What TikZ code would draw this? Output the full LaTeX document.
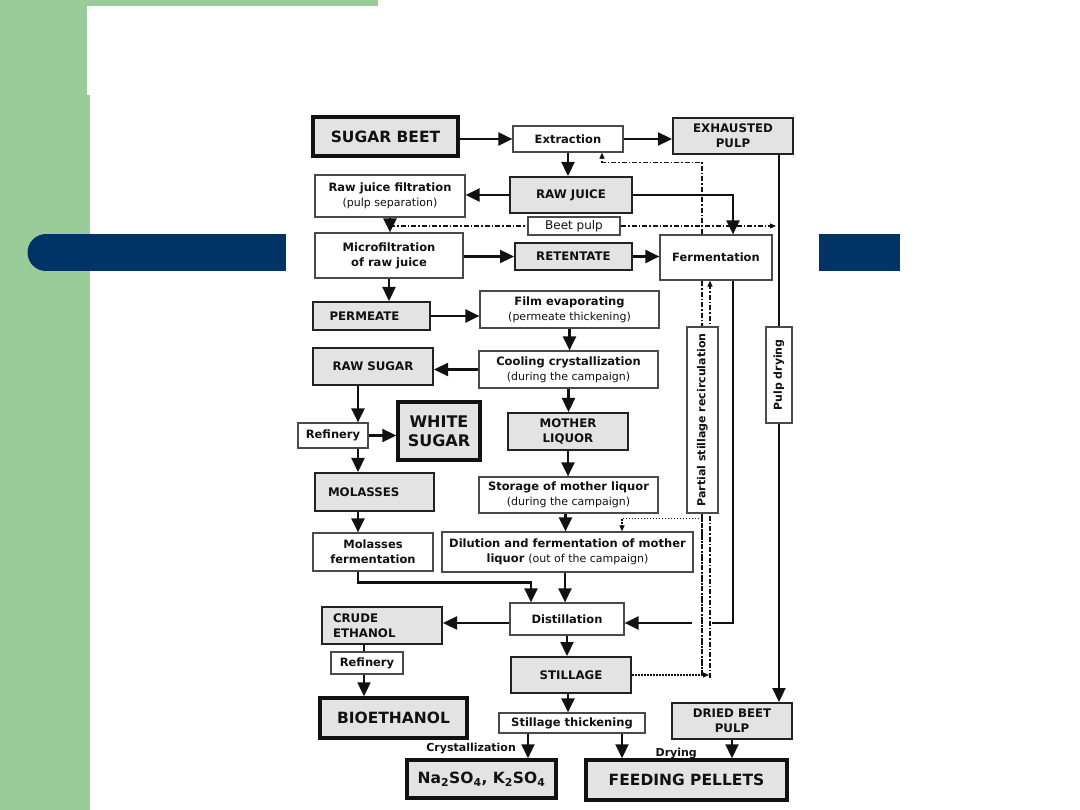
\documentclass[tikz,border=0pt]{standalone}
\usepackage{fontspec}
\setmainfont{DejaVu Sans}
\usetikzlibrary{arrows.meta}
\definecolor{slidegreen}{HTML}{99CC99}
\definecolor{slideblue}{HTML}{003366}
\definecolor{boxgray}{HTML}{E3E3E3}
\definecolor{boxline}{HTML}{4A4A4A}
\definecolor{darkline}{HTML}{222222}
\definecolor{ink}{HTML}{111111}
\newcommand{\txtbold}{\fontsize{11.5}{15}\selectfont\bfseries}
\newcommand{\txtplain}{\fontsize{11}{15}\selectfont\mdseries}
\newcommand{\txtcaps}{\fontsize{11.8}{15}\selectfont\bfseries}
\newcommand{\txtbig}{\fontsize{15.5}{18}\selectfont\bfseries}
\newcommand{\txtlabel}{\fontsize{11}{13}\selectfont\bfseries}
\pgfdeclarelayer{slide}
\pgfdeclarelayer{behind}
\pgfsetlayers{slide,behind,main}

\begin{document}
\begin{tikzpicture}[x=1pt,y=-1pt,
    boxsize/.style 2 args={minimum width=#1pt,minimum height=#2pt},
    flowbox/.style={draw=boxline,line width=1.2pt,fill=white,text=ink,
                    font=\txtbold,align=center,inner sep=0pt},
    graybox/.style={flowbox,fill=boxgray,draw=darkline,line width=2pt,font=\txtcaps},
    heavybox/.style={graybox,draw=ink,line width=3.5pt,font=\txtbig},
    line/.style={line width=2.3pt,draw=ink},
    link/.style={line,-{Triangle[length=14pt,width=13pt]}},
    dashline/.style={line width=1.1pt,draw=ink,dash pattern=on 5pt off 2pt on 1.5pt off 2pt,
                     -{Triangle[length=6pt,width=5pt]}},
    dotline/.style={line width=1.1pt,draw=ink,dash pattern=on 1.5pt off 1.5pt,
                    -{Triangle[length=6pt,width=5pt]}},
    steplabel/.style={font=\txtlabel,text=ink,inner sep=0pt}]
  \useasboundingbox (0,0) rectangle (1080,810);
  % slide background
  \begin{pgfonlayer}{slide}
    \fill[white] (0,0) rectangle (1080,810);
    \fill[slidegreen] (0,0) rectangle (378,6);
    \fill[slidegreen] (0,0) rectangle (90,810);
    \fill[white] (87,6) rectangle (1080,95);
    \fill[white,rounded corners=16pt] (90,95) rectangle (1120,850);
    \fill[slideblue] (46,234) rectangle (286,271);
    \fill[slideblue] (46,252.5) circle[radius=18.5pt];
    \fill[slideblue] (819,234) rectangle (900,271);
  \end{pgfonlayer}

  % process boxes
  \node[heavybox,boxsize={145}{39}] (sugar) at (385.5,136.5) {SUGAR BEET};
  \node[flowbox,boxsize={110}{26}] (extr) at (568,139) {Extraction};
  \node[graybox,boxsize={120}{36}] (exh) at (733,136) {EXHAUSTED\\PULP};
  \node[flowbox,boxsize={150}{42}] (filt) at (390,196)
    {Raw juice filtration\\{\txtplain (pulp separation)}};
  \node[graybox,boxsize={122}{36}] (rawjuice) at (571,195) {RAW JUICE};
  \node[flowbox,boxsize={92}{18},font=\fontsize{12}{14}\selectfont] (beetpulp) at (574,226) {Beet pulp};
  \node[flowbox,boxsize={148}{45}] (micro) at (389,255.5) {Microfiltration\\of raw juice};
  \node[graybox,boxsize={117}{27}] (reten) at (573.5,256.5) {RETENTATE};
  \node[flowbox,boxsize={112}{45}] (ferm) at (716,257.5) {Fermentation};
  \node[graybox,boxsize={117}{28},align=left,text width=84pt] (perm) at (371.5,316) {PERMEATE};
  \node[flowbox,boxsize={179}{37}] (film) at (569.5,309.5)
    {Film evaporating\\{\txtplain (permeate thickening)}};
  \node[graybox,boxsize={120}{37}] (rawsugar) at (373,366.5) {RAW SUGAR};
  \node[flowbox,boxsize={179}{37}] (cool) at (568.5,369.5)
    {Cooling crystallization\\{\txtplain (during the campaign)}};
  \node[flowbox,boxsize={70}{25}] (ref1) at (333,435.5) {Refinery};
  \node[heavybox,boxsize={82}{58},font=\fontsize{16}{19}\selectfont\bfseries] (white) at (439,431) {WHITE\\SUGAR};
  \node[graybox,boxsize={120}{37}] (mother) at (568,431.5) {MOTHER\\LIQUOR};
  \node[graybox,boxsize={119}{38},align=left,text width=93pt] (molas) at (374.5,492) {MOLASSES};
  \node[flowbox,boxsize={179}{36}] (stor) at (568.5,495)
    {Storage of mother liquor\\{\txtplain (during the campaign)}};
  \node[flowbox,boxsize={120}{38}] (molferm) at (373,552) {Molasses\\fermentation};
  \node[flowbox,boxsize={251}{40}] (dil) at (567.5,552)
    {Dilution and fermentation of mother\\liquor {\txtplain (out of the campaign)}};
  \node[flowbox,boxsize={114}{32}] (dist) at (567,619) {Distillation};
  \node[graybox,boxsize={120}{37},align=left,text width=98pt] (crude) at (382,625.5) {CRUDE\\ETHANOL};
  \node[flowbox,boxsize={72}{22}] (ref2) at (367,663) {Refinery};
  \node[graybox,boxsize={120}{36}] (still) at (571,675) {STILLAGE};
  \node[heavybox,boxsize={147}{40}] (bioeth) at (393.5,718) {BIOETHANOL};
  \node[flowbox,boxsize={146}{20}] (thick) at (572,723) {Stillage thickening};
  \node[graybox,boxsize={120}{36}] (dried) at (732,721) {DRIED BEET\\PULP};
  \node[heavybox,boxsize={149}{38}] (salts) at (481.5,779)
    {Na\textsubscript{2}SO\textsubscript{4}, K\textsubscript{2}SO\textsubscript{4}};
  \node[heavybox,boxsize={201}{40}] (pellets) at (686.5,780) {FEEDING PELLETS};
  \node[flowbox,boxsize={186}{31},rotate=90,font=\txtlabel] (partial) at (702.5,420)
    {Partial stillage recirculation};
  \node[flowbox,boxsize={96}{26},rotate=90,font=\txtlabel] (pulpdry) at (779,375) {Pulp drying};

  % lines running behind the boxes
  \coordinate (pulptop) at ([xshift=46pt]exh.south);
  \coordinate (recA) at ([xshift=-14pt]ferm.south |- still.east);
  \coordinate (recB) at ([xshift=-6pt]ferm.south |- still.east);
  \coordinate (dilturn) at ([yshift=-5pt]stor.south -| recA);
  \begin{pgfonlayer}{behind}
    \draw[link] (pulptop) -- (pulptop |- dried.north);
    \draw[dashline] (filt.south |- beetpulp) -- ([xshift=43pt]exh.south |- beetpulp);
    \draw[dashline] (recA) -- ([xshift=-14pt]ferm.north) -- ++(0,-72) -| ([xshift=34pt]extr.south);
    \draw[dashline] ([yshift=-3pt]recB) -- (recB |- ferm.south);
    \draw[dotline] (recA) -- (dilturn) -| ([xshift=54.5pt]dil.north);
    \draw[dotline] (still.east) -- ([xshift=-1pt]recB);
  \end{pgfonlayer}

  % main flow
  \draw[link] (sugar.east |- extr.west) -- (extr.west);
  \draw[link] (extr.east) -- (extr.east -| exh.west);
  \draw[link] (extr.south) -- (extr.south |- rawjuice.north);
  \draw[link] (rawjuice.west) -- (rawjuice.west -| filt.east);
  \draw[link] (rawjuice.east) -| ([xshift=17pt]ferm.north);
  \draw[link] (filt.south) -- (filt.south |- micro.north);
  \draw[link] (micro.east |- reten.west) -- (reten.west);
  \draw[link] (reten.east) -- (reten.east -| ferm.west);
  \draw[link] (micro.south) -- (micro.south |- perm.north);
  \draw[link] (perm.east) -- (perm.east -| film.west);
  \draw[link] (film.south) -- (film.south |- cool.north);
  \draw[link] (cool.west) -- (cool.west -| rawsugar.east);
  \draw[link] (cool.south) -- (cool.south |- mother.north);
  \coordinate (leftcol) at ([xshift=-15pt]rawsugar.south);
  \draw[link] (leftcol) -- (leftcol |- ref1.north);
  \draw[link] (ref1.east) -- (ref1.east -| white.west);
  \draw[link] (leftcol |- ref1.south) -- (leftcol |- molas.north);
  \draw[link] (leftcol |- molas.south) -- (leftcol |- molferm.north);
  \draw[link] (leftcol |- molferm.south) -- ++(0,11) -| ([xshift=-36pt]dist.north);
  \draw[link] (mother.south) -- (mother.south |- stor.north);
  \draw[link] ([xshift=-3pt]stor.south) -- ([xshift=-3pt]stor.south |- dil.north);
  \draw[link] ([xshift=-2.5pt]dil.south) -- ([xshift=-2.5pt]dil.south |- dist.north);
  \coordinate (distin) at ([yshift=-4pt]dist.east);
  \draw[line] ([xshift=17pt]ferm.south) |- ([xshift=2pt]recB |- distin);
  \draw[link] ([xshift=-10pt]recA |- distin) -- (distin);
  \draw[link] ([yshift=-4pt]dist.west) -- ([yshift=-4pt]dist.west -| crude.east);
  \draw[line] ([xshift=-18pt]crude.south) -- ([xshift=-18pt]crude.south |- ref2.north);
  \draw[link] ([xshift=-18pt]crude.south |- ref2.south) -- ([xshift=-18pt]crude.south |- bioeth.north);
  \draw[link] (dist.south) -- (dist.south |- still.north);
  \draw[link] ([xshift=-3pt]still.south) -- ([xshift=-3pt]still.south |- thick.north);
  \draw[link] ([xshift=-44pt]thick.south) -- ([xshift=-44pt]thick.south |- salts.north)
    node[midway,left=11pt,yshift=-3pt,steplabel] {Crystallization};
  \draw[link] ([xshift=50pt]thick.south) -- ([xshift=50pt]thick.south |- pellets.north);
  \draw[link] (dried.south) -- (dried.south |- pellets.north)
    node[midway,left=34pt,yshift=-4pt,steplabel] {Drying};
\end{tikzpicture}
\end{document}
